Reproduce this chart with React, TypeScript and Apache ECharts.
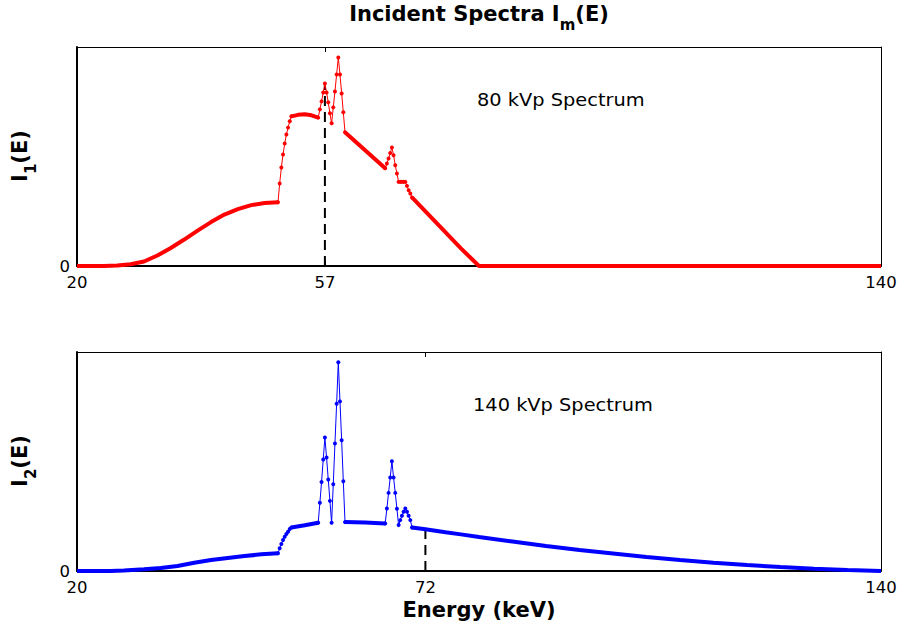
import React, { useEffect, useRef } from "react";
import * as echarts from "echarts";

// ---------- axes ----------
const ENERGY_MIN = 20;
const ENERGY_MAX = 140;
const ticks80 = [20, 57, 140];
const ticks140 = [20, 72, 140];
const yTickValues = [0];
const Y_MAX = 219.5;
const STEP = 0.25; // keV sampling of the fine (dotted) segments

// ---------- 80 kVp spectrum (arbitrary units) ----------
const low80: number[][] = [
  [20, 0], [24, 0], [26, 0.5], [28, 1.8], [30, 4.5], [32, 10.5], [34, 18], [36, 26.5],
  [38, 35.5], [40, 44], [42, 51.5], [44, 57], [46, 61], [48, 63.2], [50, 64],
];
const rise80Start = 50;
const rise80 = [64, 82.7, 98.7, 111.7, 122.7, 131.7, 138.7, 145, 150];
const plateau80: number[][] = [[52, 150], [53, 151.5], [54, 152], [55, 151], [56, 148.7]];
const peaks80Start = 56;
const peaks80 = [148.7, 157, 165, 174, 183, 174, 164, 153, 143, 159, 175, 192, 209, 192, 173, 154, 134];
const slope80: number[][] = [[60, 134], [63, 116], [66, 98]];
const kb80Start = 66;
const kb80 = [98, 102.7, 107.7, 113.3, 118.7, 111, 101, 92.7, 84.3, 84.3, 84.3, 84.3, 84.3, 80.3, 76, 72.7, 68.7];
const tail80: number[][] = [[70, 68.7], [77.3, 17.7], [80, 0], [140, 0]];
const marker80 = 57;
const marker80Top = 183;

// ---------- 140 kVp spectrum ----------
const low140: number[][] = [
  [20, 0], [25, 0], [27, 0.4], [30, 1.7], [32.5, 3], [35, 5], [37.5, 8.3], [40, 11],
  [42.5, 13], [45, 15], [47.5, 16.7], [50, 17.7],
];
const rise140Start = 50;
const rise140 = [17.7, 22.7, 27, 31, 34.3, 37, 39.3, 42, 43.7];
const plateau140: number[][] = [[52, 43.7], [54, 45.8], [56, 48.3]];
const peaks140Start = 56;
const peaks140 = [48.3, 68.3, 89.3, 111.7, 133.7, 113.7, 91.7, 70.3, 48.3, 87, 127.7, 167.7, 209.3, 170, 131, 90, 49];
const flat140: number[][] = [[60, 49], [63, 48.5], [66, 47.7]];
const kb140Start = 66;
const kb140 = [47.7, 62.7, 78.3, 93.7, 110, 93.7, 78.3, 62.3, 46, 51, 55.3, 59.3, 62.7, 59.3, 55.3, 51, 43.7];
const tail140: number[][] = [
  [70, 43.7], [72, 41.8], [75, 38.8], [77.3, 36.7], [80, 34], [85, 29.5], [90, 25], [95, 21],
  [100, 17.5], [105, 14], [110, 11], [115, 8.3], [120, 6], [125, 4], [130, 2.3], [135, 1], [140, 0],
];
const marker140 = 72;
const marker140Top = 41.8;

const FONT = "DejaVu Sans";

function stepped(start: number, values: number[]): number[][] {
  return values.map((v, i) => [start + i * STEP, v]);
}

function thick(data: number[][], color: string, idx: number) {
  return {
    type: "line", xAxisIndex: idx, yAxisIndex: idx, data, showSymbol: false, symbol: "none",
    lineStyle: { color, width: 4 }, z: 3, silent: true,
  };
}
function dotted(data: number[][], color: string, idx: number) {
  return {
    type: "line", xAxisIndex: idx, yAxisIndex: idx, data, showSymbol: true, symbol: "circle",
    symbolSize: 4, itemStyle: { color }, lineStyle: { color, width: 1 }, z: 4, silent: true,
  };
}
function dashed(x: number, top: number, idx: number) {
  return {
    type: "line", xAxisIndex: idx, yAxisIndex: idx, data: [[x, 0], [x, top]], showSymbol: false,
    symbol: "none", lineStyle: { color: "#000", width: 2, type: [10, 6] }, z: 2, silent: true,
  };
}

function xAxes(idx: number, ticks: number[]) {
  return [
    {
      type: "value", gridIndex: idx, min: ENERGY_MIN, max: ENERGY_MAX, position: "bottom",
      axisLine: { show: true, onZero: false, lineStyle: { color: "#000", width: 2 } },
      axisTick: { show: true, inside: true, length: 5, customValues: ticks, lineStyle: { color: "#000" } },
      axisLabel: { customValues: ticks, color: "#000", fontSize: 16.5, fontFamily: FONT, margin: 8 },
      splitLine: { show: false },
    },
    {
      type: "value", gridIndex: idx, min: ENERGY_MIN, max: ENERGY_MAX, position: "top",
      axisLine: { show: true, onZero: false, lineStyle: { color: "#000", width: 1 } },
      axisTick: { show: true, inside: true, length: 5, customValues: ticks, lineStyle: { color: "#000" } },
      axisLabel: { show: false },
      splitLine: { show: false },
    },
  ];
}
function yAxes(idx: number) {
  return [
    {
      type: "value", gridIndex: idx, min: 0, max: Y_MAX, position: "left",
      axisLine: { show: true, onZero: false, lineStyle: { color: "#000", width: 2 } },
      axisTick: { show: false },
      axisLabel: { customValues: yTickValues, color: "#000", fontSize: 16.5, fontFamily: FONT, margin: 7 },
      splitLine: { show: false },
    },
    {
      type: "value", gridIndex: idx, min: 0, max: Y_MAX, position: "right",
      axisLine: { show: true, onZero: false, lineStyle: { color: "#000", width: 1 } },
      axisTick: { show: false }, axisLabel: { show: false }, splitLine: { show: false },
    },
  ];
}

const richBold = {
  b: { fontSize: 21, fontWeight: "bold", fontFamily: FONT, color: "#000", lineHeight: 24 },
  s: { fontSize: 15, fontWeight: "bold", fontFamily: FONT, color: "#000", lineHeight: 36, verticalAlign: "bottom" },
};

export default function App() {
  const ref = useRef<HTMLDivElement>(null);
  useEffect(() => {
    if (!ref.current) return;
    const chart = echarts.init(ref.current, undefined, { renderer: "svg" });
    const red = "#ff0000";
    const blue = "#0000ff";
    chart.setOption({
      animation: false,
      backgroundColor: "#fff",
      grid: [
        { left: 77, top: 47, width: 804, height: 219, containLabel: false },
        { left: 77, top: 352, width: 804, height: 219, containLabel: false },
      ],
      xAxis: [...xAxes(0, ticks80), ...xAxes(1, ticks140)],
      yAxis: [...yAxes(0), ...yAxes(1)],
      series: [
        dashed(marker80, marker80Top, 0),
        thick(low80, red, 0),
        thick(plateau80, red, 0),
        thick(slope80, red, 0),
        thick(tail80, red, 0),
        dotted(stepped(rise80Start, rise80), red, 0),
        dotted(stepped(peaks80Start, peaks80), red, 0),
        dotted(stepped(kb80Start, kb80), red, 0),
        dashed(marker140, marker140Top, 2),
        thick(low140, blue, 2),
        thick(plateau140, blue, 2),
        thick(flat140, blue, 2),
        thick(tail140, blue, 2),
        dotted(stepped(rise140Start, rise140), blue, 2),
        dotted(stepped(peaks140Start, peaks140), blue, 2),
        dotted(stepped(kb140Start, kb140), blue, 2),
      ],
      graphic: [
        {
          type: "text", x: 479, y: 14,
          style: { text: "{b|Incident Spectra I}{s|m}{b|(E)}", rich: richBold, textAlign: "center", textVerticalAlign: "middle" },
        },
        {
          type: "text", x: 479, y: 610,
          style: { text: "Energy (keV)", font: `bold 21px "${FONT}"`, fill: "#000", textAlign: "center", textVerticalAlign: "middle" },
        },
        {
          type: "text", x: 20, y: 156, rotation: Math.PI / 2,
          style: { text: "{b|I}{s|1}{b|(E)}", rich: richBold, textAlign: "center", textVerticalAlign: "middle" },
        },
        {
          type: "text", x: 20, y: 461, rotation: Math.PI / 2,
          style: { text: "{b|I}{s|2}{b|(E)}", rich: richBold, textAlign: "center", textVerticalAlign: "middle" },
        },
        {
          type: "text", x: 477, y: 100, scaleX: 1.14,
          style: { text: "80 kVp Spectrum", font: `17px "${FONT}"`, fill: "#000", textAlign: "left", textVerticalAlign: "middle" },
        },
        {
          type: "text", x: 473, y: 405, scaleX: 1.14,
          style: { text: "140 kVp Spectrum", font: `17px "${FONT}"`, fill: "#000", textAlign: "left", textVerticalAlign: "middle" },
        },
      ],
    });
    return () => chart.dispose();
  }, []);
  return <div ref={ref} style={{ position: "absolute", left: 0, top: 0, width: 900, height: 628 }} />;
}
